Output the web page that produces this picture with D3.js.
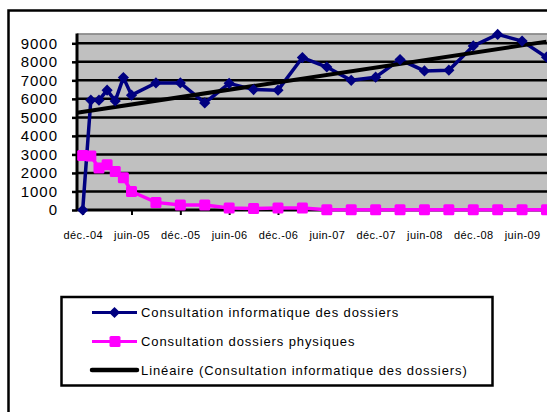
<!DOCTYPE html>
<html><head><meta charset="utf-8">
<script src="https://cdn.jsdelivr.net/npm/d3@7"></script>
<style>body{margin:0;background:#fff}svg{display:block}text{font-family:Arial,"Liberation Sans",sans-serif;fill:#000}</style>
</head><body><svg id="c" width="547" height="412"></svg>
<script>
// months since déc.-04
const months = [0,1,2,3,4,5,6,9,12,15,18,21,24,27,30,33,36,39,42,45,48,51,54,57];
const informatique = [0,5930,5930,6470,5890,7150,6200,6860,6860,5780,6840,6500,6470,8230,7720,7000,7170,8120,7510,7550,8860,9480,9120,8250];
const physiques = [2940,2920,2270,2440,2080,1740,1000,410,270,270,110,80,110,110,20,10,10,10,10,10,10,10,10,10];
const tickMonths = [0,6,12,18,24,30,36,42,48,54];
const tickLabels = ["déc.-04","juin-05","déc.-05","juin-06","déc.-06","juin-07","déc.-07","juin-08","déc.-08","juin-09"];
const yTicks = [0,1000,2000,3000,4000,5000,6000,7000,8000,9000];
const legendLabels = ["Consultation informatique des dossiers","Consultation dossiers physiques","Linéaire (Consultation informatique des dossiers)"];

const svg = d3.select("#c");
const plotL = 77, plotT = 33.5, plotB = 210, plotR = 565;
const x = d3.scaleLinear().domain([0,57]).range([82.7,546.5]);
const y = d3.scaleLinear().domain([0,9000]).range([210,43.3]);

// outer chart frame
svg.append("rect").attr("x",8.5).attr("y",10.5).attr("width",600).attr("height",500)
  .attr("fill","none").attr("stroke","#000").attr("stroke-width",2.5);

// plot area
svg.append("rect").attr("x",plotL).attr("y",plotT).attr("width",plotR-plotL).attr("height",plotB-plotT)
  .attr("fill","#c0c0c0");
svg.append("line").attr("x1",plotL).attr("x2",plotR).attr("y1",plotT+0.5).attr("y2",plotT+0.5)
  .attr("stroke","#808080").attr("stroke-width",1.5);

// gridlines
svg.append("g").selectAll("line").data(yTicks.filter(d=>d>0)).join("line")
  .attr("x1",plotL).attr("x2",plotR).attr("y1",d=>y(d)).attr("y2",d=>y(d))
  .attr("stroke","#000").attr("stroke-width",2.5);

// y axis
const yAxis = d3.axisLeft(y).tickValues(yTicks).tickSize(5).tickPadding(14).tickFormat(d3.format("d"));
const gy = svg.append("g").attr("transform",`translate(${plotL},0)`).call(yAxis);
gy.select(".domain").remove();
gy.selectAll(".tick line").attr("stroke","#000").attr("stroke-width",2.5);
gy.selectAll(".tick text").attr("font-size","15px").attr("letter-spacing","1px")
  .attr("font-family","Arial, 'Liberation Sans', sans-serif").attr("fill","#000");
svg.append("line").attr("x1",plotL).attr("x2",plotL).attr("y1",plotT).attr("y2",plotB+1)
  .attr("stroke","#000").attr("stroke-width",3);

// x axis
const xAxis = d3.axisBottom(x).tickValues(tickMonths).tickSize(5).tickPadding(16)
  .tickFormat((d,i)=>tickLabels[i]);
const gx = svg.append("g").attr("transform",`translate(0,${plotB})`).call(xAxis);
gx.select(".domain").remove();
gx.selectAll(".tick line").attr("stroke","#000").attr("stroke-width",2);
gx.selectAll(".tick text").attr("font-size","11px").attr("letter-spacing","0.4px")
  .attr("font-family","Arial, 'Liberation Sans', sans-serif").attr("fill","#000");
svg.append("line").attr("x1",plotL).attr("x2",plotR).attr("y1",plotB).attr("y2",plotB)
  .attr("stroke","#000").attr("stroke-width",3);

// series
const line = d3.line().x((d,i)=>x(months[i])).y(d=>y(d));
svg.append("path").datum(physiques).attr("d",line).attr("fill","none")
  .attr("stroke","#ff00ff").attr("stroke-width",3.5);
svg.append("path").datum(informatique).attr("d",line).attr("fill","none")
  .attr("stroke","#000080").attr("stroke-width",3.5);

// linear trend (least squares on informatique vs months)
const mx = d3.mean(months), my = d3.mean(informatique);
let sxy=0, sxx=0;
months.forEach((m,i)=>{ sxy += (m-mx)*(informatique[i]-my); sxx += (m-mx)*(m-mx); });
const slope = sxy/sxx, icpt = my - slope*mx;
const m0 = x.invert(plotL), m1 = d3.max(months);
svg.append("line").attr("x1",x(m0)).attr("y1",y(icpt+slope*m0))
  .attr("x2",x(m1)).attr("y2",y(icpt+slope*m1))
  .attr("stroke","#000").attr("stroke-width",4);

// markers
svg.append("g").selectAll("rect").data(physiques).join("rect")
  .attr("x",(d,i)=>x(months[i])-5.5).attr("y",d=>y(d)-5.5).attr("width",11).attr("height",11)
  .attr("rx",1.5).attr("fill","#ff00ff");
const diamond = d3.symbol().type(d3.symbolDiamond2).size(80);
svg.append("g").selectAll("path").data(informatique).join("path")
  .attr("d",diamond).attr("transform",(d,i)=>`translate(${x(months[i])},${y(d)})`)
  .attr("fill","#000080");

// legend
const lg = svg.append("g");
lg.append("rect").attr("x",61.5).attr("y",297).attr("width",431).attr("height",88.5)
  .attr("fill","#fff").attr("stroke","#000").attr("stroke-width",2.5);
const ly = [312.5,341.5,370];
const lcol = ["#000080","#ff00ff","#000"];
const lw = [3,3,4.5];
legendLabels.forEach((t,i)=>{
  lg.append("line").attr("x1",92).attr("x2",137).attr("y1",ly[i]).attr("y2",ly[i])
    .attr("stroke",lcol[i]).attr("stroke-width",lw[i]).attr("stroke-linecap", i===2?"round":"butt");
  if(i===0) lg.append("path").attr("d",diamond).attr("transform",`translate(114.5,${ly[i]})`).attr("fill",lcol[i]);
  if(i===1) lg.append("rect").attr("x",109.5).attr("y",ly[i]-5.5).attr("width",11).attr("height",11).attr("rx",1.5).attr("fill",lcol[i]);
  lg.append("text").attr("x",141).attr("y",ly[i]).attr("dy","0.36em")
    .attr("font-size","13px").attr("letter-spacing","0.9px").text(t);
});
</script></body></html>
